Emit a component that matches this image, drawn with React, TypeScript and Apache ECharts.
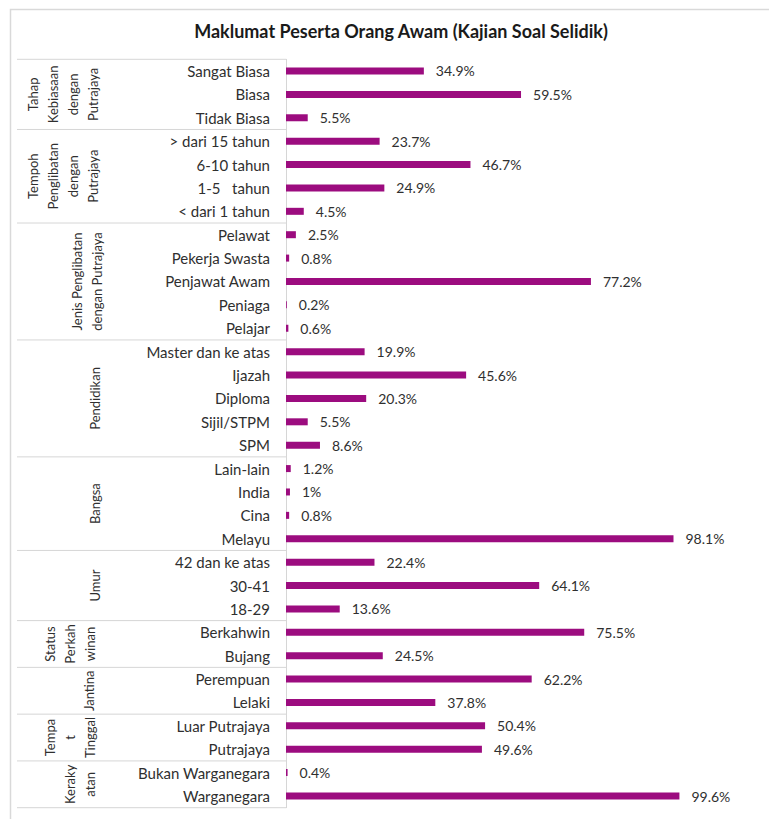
import React, { useEffect, useRef } from "react";
import * as echarts from "echarts";

const chartTitle = "Maklumat Peserta Orang Awam (Kajian Soal Selidik)";

const categories = [
  "Sangat Biasa", "Biasa", "Tidak Biasa",
  "> dari 15 tahun", "6-10 tahun", "1-5   tahun", "< dari 1 tahun",
  "Pelawat", "Pekerja Swasta", "Penjawat Awam", "Peniaga", "Pelajar",
  "Master dan ke atas", "Ijazah", "Diploma", "Sijil/STPM", "SPM",
  "Lain-lain", "India", "Cina", "Melayu",
  "42 dan ke atas", "30-41", "18-29",
  "Berkahwin", "Bujang",
  "Perempuan", "Lelaki",
  "Luar Putrajaya", "Putrajaya",
  "Bukan Warganegara", "Warganegara",
];

const values = [
  34.9, 59.5, 5.5,
  23.7, 46.7, 24.9, 4.5,
  2.5, 0.8, 77.2, 0.2, 0.6,
  19.9, 45.6, 20.3, 5.5, 8.6,
  1.2, 1, 0.8, 98.1,
  22.4, 64.1, 13.6,
  75.5, 24.5,
  62.2, 37.8,
  50.4, 49.6,
  0.4, 99.6,
];

const groupNames = [
  "Tahap\nKebiasaan\ndengan\nPutrajaya",
  "Tempoh\nPenglibatan\ndengan\nPutrajaya",
  "Jenis Penglibatan\ndengan Putrajaya",
  "Pendidikan",
  "Bangsa",
  "Umur",
  "Status\nPerkah\nwinan",
  "Jantina",
  "Tempa\nt\nTinggal",
  "Keraky\natan",
];

const groupSizes = [3, 4, 5, 5, 4, 3, 2, 2, 2, 2];

// layout of the rotated group labels (right edge x)
const groupLabelRight = [103, 103, 107, 105, 105, 105, 100, 99, 100, 100];

const FONT = "Lato, 'Noto Sans', sans-serif";
const BAR = "#9c0c7f";
const TEXT = "#2f2f2f";

export default function App() {
  const ref = useRef<HTMLDivElement>(null);

  useEffect(() => {
    if (!ref.current) return;
    const chart = echarts.init(ref.current, null, { renderer: "svg" });
    chart.setOption({
      animation: false,
      backgroundColor: "#ffffff",
      title: {
        text: chartTitle,
        left: 396,
        top: 17,
        textAlign: "center",
        textStyle: { fontFamily: FONT, fontSize: 18, fontWeight: "bold", color: "#1a1a1a" },
      },
      grid: { left: 286, right: 88, top: 59.3, bottom: 11.3, containLabel: false },
      xAxis: {
        type: "value",
        min: 0,
        max: 100,
        show: false,
      },
      yAxis: {
        type: "category",
        inverse: true,
        data: categories,
        axisLine: { show: true, lineStyle: { color: "#d6d6d6", width: 1 } },
        axisTick: { show: false },
        axisLabel: { margin: 16, fontSize: 15, color: TEXT, fontFamily: FONT },
        splitLine: { show: false },
      },
      series: [
        {
          type: "bar",
          data: values,
          barWidth: 7,
          itemStyle: { color: BAR },
          label: {
            show: true,
            position: "right",
            distance: 12,
            fontSize: 14,
            fontFamily: FONT,
            color: TEXT,
            formatter: (p: any) => `${p.value}%`,
          },
        },
      ],
    });

    const c0 = chart.convertToPixel({ yAxisIndex: 0 }, 0) as number;
    const c1 = chart.convertToPixel({ yAxisIndex: 0 }, 1) as number;
    const band = c1 - c0;
    const axisX = chart.convertToPixel({ xAxisIndex: 0 }, 0) as number;

    const graphics: any[] = [
      {
        type: "rect",
        shape: { x: 10.5, y: 9.5, width: 900, height: 900 },
        style: { fill: "none", stroke: "#d9d9d9", lineWidth: 1.5 },
        silent: true,
        z: -1,
      },
    ];
    let start = 0;
    const boundaryY = (idx: number) =>
      (chart.convertToPixel({ yAxisIndex: 0 }, Math.min(idx, categories.length - 1)) as number) +
      (idx >= categories.length ? band / 2 : -band / 2);

    graphics.push({
      type: "line",
      shape: { x1: 17, y1: boundaryY(0), x2: axisX, y2: boundaryY(0) },
      style: { stroke: "#d6d6d6", lineWidth: 1 },
      silent: true,
    });
    groupSizes.forEach((size, g) => {
      const end = start + size;
      const yTop = boundaryY(start);
      const yBot = boundaryY(end);
      graphics.push({
        type: "line",
        shape: { x1: 17, y1: yBot, x2: axisX, y2: yBot },
        style: { stroke: "#d6d6d6", lineWidth: 1 },
        silent: true,
      });
      graphics.push({
        type: "text",
        x: groupLabelRight[g],
        y: (yTop + yBot) / 2,
        rotation: Math.PI / 2,
        style: {
          text: groupNames[g],
          fontFamily: FONT,
          fontSize: 13,
          lineHeight: 20,
          fill: TEXT,
          align: "center",
          verticalAlign: "bottom",
        },
        silent: true,
      });
      start = end;
    });

    chart.setOption({ graphic: graphics });

    return () => chart.dispose();
  }, []);

  return (
    <div
      ref={ref}
      style={{ position: "fixed", left: 0, top: 0, width: 769, height: 819, background: "#fff" }}
    />
  );
}
